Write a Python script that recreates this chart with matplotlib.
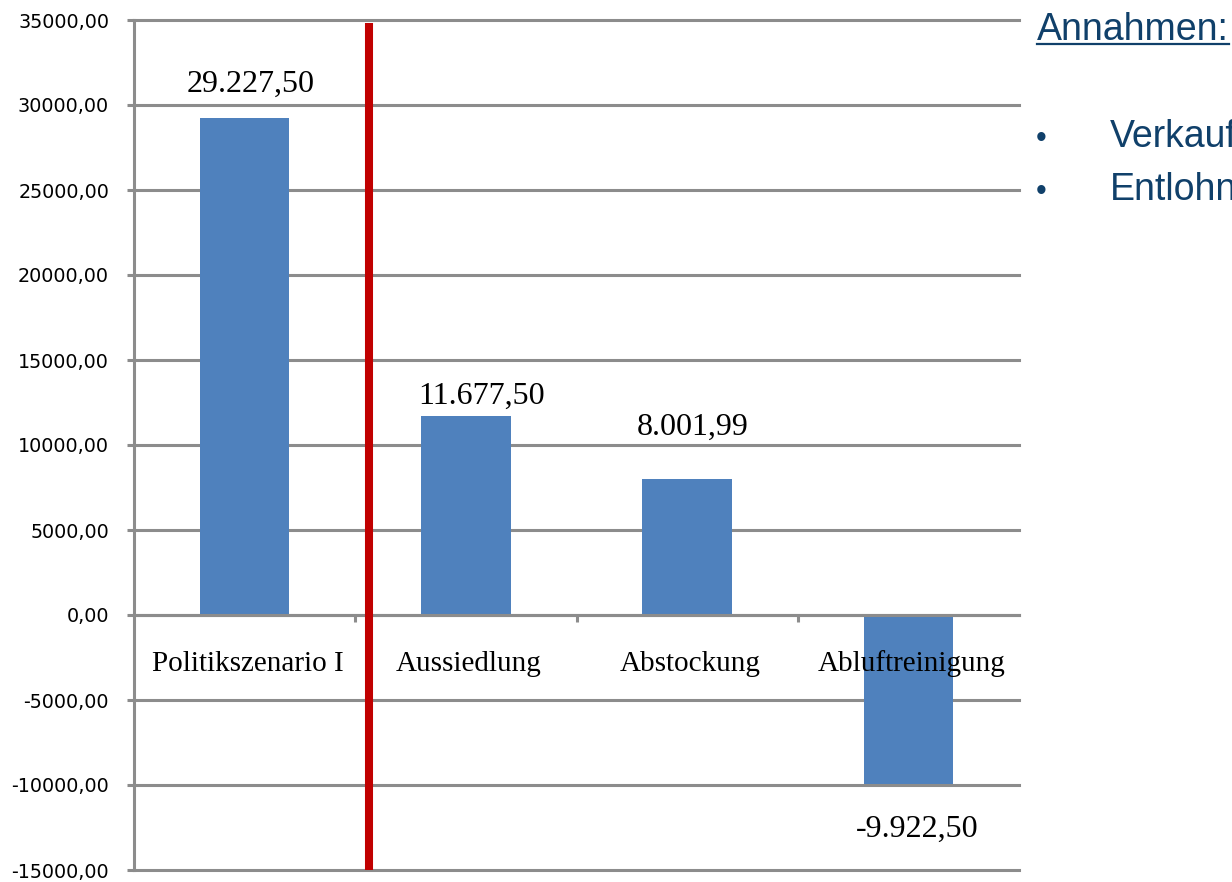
import matplotlib.pyplot as plt
from matplotlib.lines import Line2D
from matplotlib.ticker import FuncFormatter

# Deckungsbeitrag je Szenario
kategorien = ['Politikszenario I', 'Aussiedlung', 'Abstockung', 'Abluftreinigung']
werte = [29227.50, 11677.50, 8001.99, -9922.50]
wert_texte = ['29.227,50', '11.677,50', '8.001,99', '-9.922,50']
y_ticks = [-15000, -10000, -5000, 0, 5000, 10000, 15000, 20000, 25000, 30000, 35000]
annahmen = ['Verkaufspreise', 'Entlohnung']

# label offsets (points) as placed in the original workbook
label_dx = [4.3, 11.5, 4.3, 6.5]
label_dy = [18.7, 9.4, 31.7, -38.2]

grau = '#8c8c8c'
blau = '#4f81bd'
rot = '#c00000'
textblau = '#10406a'

fig = plt.figure(figsize=(12.32, 8.82), dpi=100)
ax = fig.add_axes([134 / 1232, 12 / 882, 885 / 1232, 850 / 882])

ax.bar(range(len(werte)), werte, width=0.405, color=blau, zorder=1)

ax.set_xlim(-0.5, len(werte) - 0.5)
ax.set_ylim(y_ticks[0], y_ticks[-1])
ax.set_yticks(y_ticks)
ax.yaxis.set_major_formatter(FuncFormatter(lambda v, p: f'{v:.2f}'.replace('.', ',')))
ax.tick_params(axis='y', length=5, width=2.2, color=grau, pad=13, labelsize=13.8)
ax.set_axisbelow(True)
ax.yaxis.grid(True, color=grau, linewidth=2.2)
for gl in ax.get_ygridlines():
    gl.set_clip_on(False)

for s in ['top', 'right']:
    ax.spines[s].set_visible(False)
ax.spines['left'].set_color(grau)
ax.spines['left'].set_linewidth(2.2)
ax.spines['bottom'].set_position(('data', 0))
ax.spines['bottom'].set_color(grau)
ax.spines['bottom'].set_linewidth(2.2)

# category separators below the zero line
ax.set_xticks([0.5, 1.5, 2.5], minor=True)
ax.set_xticks([])
ax.tick_params(axis='x', which='minor', length=5, width=2.2, color=grau, direction='out')

for i, name in enumerate(kategorien):
    ax.annotate(name, (i, 0), xytext=(2, -40), textcoords='offset points',
                ha='center', va='baseline', fontsize=21,
                family='Liberation Serif', zorder=5)

for i, (v, t) in enumerate(zip(werte, wert_texte)):
    ax.annotate(t, (i, v), xytext=(label_dx[i], label_dy[i]), textcoords='offset points',
                ha='center', va='baseline', fontsize=23,
                family='Liberation Serif', zorder=5)

# divider between policy scenario and measures
ax.vlines(0.56, y_ticks[0], 34800, color=rot, linewidth=5.8, zorder=4)

# assumptions box on the right
titel = fig.text(1037 / 1232, 1 - 40 / 882, 'Annahmen:', fontsize=27, color=textblau,
                 family='Liberation Sans', va='baseline')
fig.canvas.draw()
bb = titel.get_window_extent()
uy = 1 - 44 / 882
fig.add_artist(Line2D([bb.x0 / 1232, bb.x1 / 1232], [uy, uy], color=textblau,
                      linewidth=1.6, transform=fig.transFigure))

for k, txt in enumerate(annahmen):
    yb = 1 - (147 + 53 * k) / 882
    fig.text(1036 / 1232, yb, '\u2022', fontsize=22, color=textblau,
             family='Liberation Sans', va='baseline')
    fig.text(1110 / 1232, yb, txt, fontsize=27, color=textblau,
             family='Liberation Sans', va='baseline')

fig.savefig('out.png', dpi=100)
